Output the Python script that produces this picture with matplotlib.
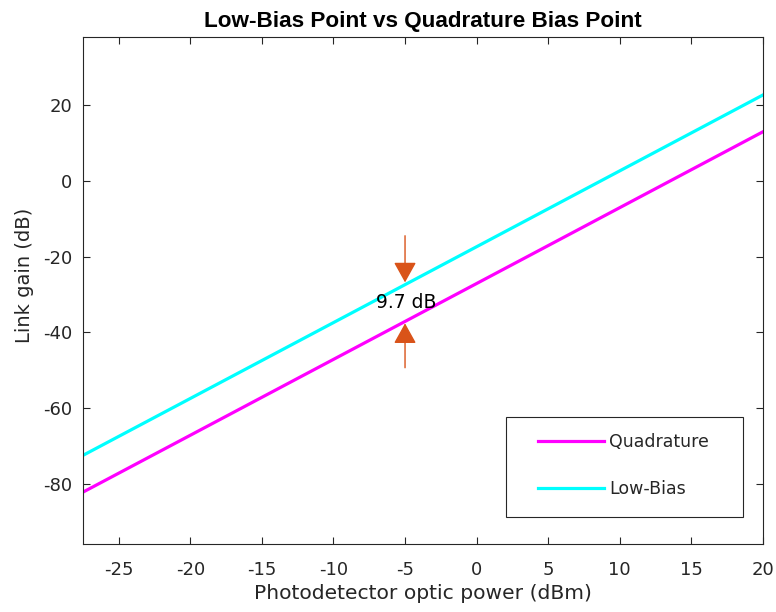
import matplotlib
matplotlib.use('Agg')
import matplotlib.pyplot as plt
from matplotlib.patches import Rectangle

plt.rcParams['font.family'] = ['DejaVu Sans']
plt.rcParams['axes.unicode_minus'] = False

# photodetector optic power (dBm) and link gain (dB)
power = [-27.5, -20, -10, 0, 10, 20]
quadrature = [-82.1, -67.1, -47.1, -27.1, -7.1, 12.9]
low_bias = [-72.4, -57.4, -37.4, -17.4, 2.6, 22.6]

x_ticks = [-25, -20, -15, -10, -5, 0, 5, 10, 15, 20]
y_ticks = [-80, -60, -40, -20, 0, 20]

# arrow annotation at -5 dBm
arrow_x = -5
top_arrow = (-14.5, -26.8)
bottom_arrow = (-49.3, -37.6)
gap_label = '9.7 dB'

dark = '#262626'
orange = '#D95319'

fig = plt.figure(figsize=(7.76, 6.12), dpi=100)
ax = fig.add_axes([0.107, 0.111, 0.876, 0.8285])

ax.plot(power, quadrature, color='#FF00FF', lw=2.3, label='Quadrature')
ax.plot(power, low_bias, color='#00FFFF', lw=2.3, label='Low-Bias')

ax.set_xlim(-27.5, 20)
ax.set_ylim(-95.8, 37.9)
ax.set_xticks(x_ticks)
ax.set_yticks(y_ticks)
ax.tick_params(direction='in', length=5, width=0.8, colors=dark, labelsize=13,
               top=True, right=True)
ax.tick_params(axis='x', pad=12)
ax.tick_params(axis='y', pad=7.5)
for s in ax.spines.values():
    s.set_color(dark)
    s.set_linewidth(0.8)

ax.set_title('Low-Bias Point vs Quadrature Bias Point', fontsize=16.2,
             fontweight='bold', color='black', pad=7,
             family=['Liberation Sans'])
ax.set_xlabel('Photodetector optic power (dBm)', fontsize=14.6, color=dark, labelpad=4)
ax.set_ylabel('Link gain (dB)', fontsize=14, color=dark, labelpad=7)
ax.yaxis.label.set_y(0.53)

arrow_style = dict(arrowstyle='-|>,head_length=0.9,head_width=0.5', color=orange,
                   lw=1.0, mutation_scale=14, shrinkA=0, shrinkB=0)
ax.annotate('', xy=(arrow_x, top_arrow[1]), xytext=(arrow_x, top_arrow[0]),
            arrowprops=arrow_style)
ax.annotate('', xy=(arrow_x, bottom_arrow[1]), xytext=(arrow_x, bottom_arrow[0]),
            arrowprops=arrow_style)
ax.text(arrow_x + 0.1, -32.2, gap_label, fontsize=13.5, color='black',
        ha='center', va='center')

# legend box drawn separately so the padding can match
ax.add_patch(Rectangle((0.622, 0.053), 0.349, 0.197, transform=ax.transAxes,
                       facecolor='white', edgecolor=dark, lw=0.8, zorder=4))
leg = ax.legend(loc='upper left', bbox_to_anchor=(0.669, 0.219), fontsize=12.5,
                frameon=False, handlelength=3.8, handletextpad=0.3,
                labelspacing=1.65, borderpad=0, borderaxespad=0)
leg.set_zorder(5)
for t in leg.get_texts():
    t.set_color(dark)

fig.savefig('out.png', dpi=100, facecolor='white')
